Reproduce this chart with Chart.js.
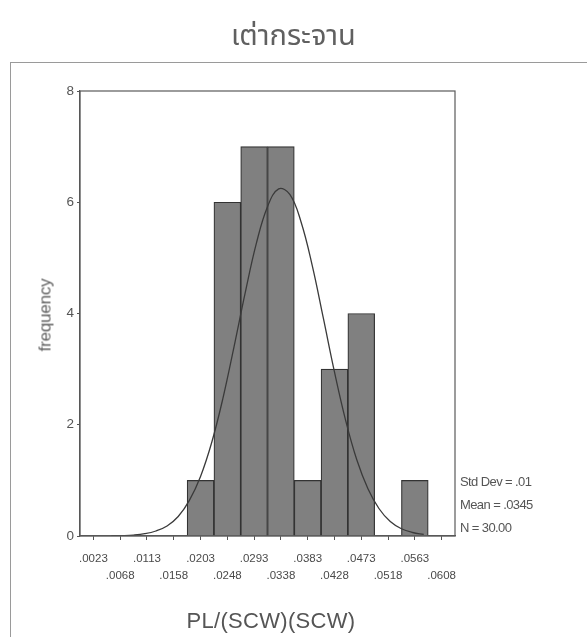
<!DOCTYPE html>
<html>
<head>
<meta charset="utf-8">
<script src="https://cdn.jsdelivr.net/npm/chart.js@4"></script>
<style>
  html, body { margin: 0; padding: 0; background: #fff; }
  #wrap { position: relative; width: 587px; height: 637px; overflow: hidden; background: #fff; }
  #frame { position: absolute; left: 10px; top: 62px; width: 600px; height: 600px; border: 1.5px solid #9a9a9a; box-sizing: border-box; }
  canvas { position: absolute; left: 0; top: 0; }
  .t { position: absolute; color: #555; font-family: 'Liberation Sans', Arial, sans-serif; white-space: nowrap; line-height: 1; }
  #title { left: 0; width: 587px; top: 36px; text-align: center; font-size: 29px; transform: translateY(-50%); font-family: 'Noto Sans Thai', 'Loma', 'Garuda', 'Tlwg Typo', 'DejaVu Sans', sans-serif; color: #606060; }
  #ytitle { left: 45px; top: 315px; font-size: 17px; transform: translate(-50%, -50%) rotate(-90deg); letter-spacing: -0.2px; color: #606060; }
  #xtitle { left: 271px; top: 621px; font-size: 22px; transform: translate(-50%, -50%); color: #555; letter-spacing: 0.3px; }
  .stat { left: 460px; font-size: 13px; letter-spacing: -0.6px; transform: translateY(-50%); }
</style>
</head>
<body>
<div id="wrap">
  <div id="frame"></div>
  <canvas id="c" width="587" height="637"></canvas>
  <div class="t" id="title">เต่ากระจาน</div>
  <div class="t" id="ytitle">frequency</div>
  <div class="t" id="xtitle">PL/(SCW)(SCW)</div>
  <div class="t stat" style="top:481px">Std Dev = .01</div>
  <div class="t stat" style="top:504px">Mean = .0345</div>
  <div class="t stat" style="top:527px">N = 30.00</div>
</div>
<script>
// Bin midpoints (category labels)
const binLabels = ['.0023', '.0068', '.0113', '.0158', '.0203', '.0248', '.0293', '.0338', '.0383', '.0428', '.0473', '.0518', '.0563', '.0608'];
// Frequencies per bin
const frequencies = [0, 0, 0, 0, 1, 6, 7, 7, 1, 3, 4, 0, 1, 0];
// Fitted normal curve
const curveX = [0.00005, 0.0023, 0.00455, 0.0068, 0.00905, 0.0113, 0.01355, 0.0158, 0.01805, 0.0203, 0.02255, 0.0248, 0.02705, 0.0293, 0.03155, 0.0338, 0.03605, 0.0383, 0.04055, 0.0428, 0.04505, 0.0473, 0.04955, 0.0518, 0.05405, 0.0563, 0.05855, 0.0608, 0.06305];
const curveY = [0.003, 0.007, 0.017, 0.041, 0.09, 0.18, 0.35, 0.64, 1.07, 1.68, 2.47, 3.40, 4.37, 5.26, 5.92, 6.24, 6.14, 5.65, 4.87, 3.92, 2.95, 2.08, 1.37, 0.85, 0.49, 0.26, 0.13, 0.063, 0.028];
const yTicks = [0, 2, 4, 6, 8];

const curvePoints = curveX.map((x, i) => ({ x: x, y: curveY[i] }));
// Staggered two-row labels
const staggered = binLabels.map((l, i) => i % 2 === 0 ? [l, ''] : ['', l]);

const boxPlugin = {
  id: 'box',
  afterDatasetsDraw(chart) {
    const a = chart.chartArea, ctx = chart.ctx;
    ctx.save();
    ctx.strokeStyle = '#5a5a5a';
    ctx.lineWidth = 1.2;
    ctx.strokeRect(a.left, a.top, a.right - a.left, a.bottom - a.top);
    ctx.restore();
  }
};

new Chart(document.getElementById('c'), {
  type: 'bar',
  data: {
    labels: staggered,
    datasets: [
      {
        type: 'line',
        data: curvePoints,
        xAxisID: 'x2',
        yAxisID: 'y',
        borderColor: '#3a3a3a',
        borderWidth: 1.3,
        pointRadius: 0,
        tension: 0.4,
        fill: false,
        order: 0
      },
      {
        type: 'bar',
        data: frequencies,
        xAxisID: 'x',
        yAxisID: 'y',
        backgroundColor: '#808080',
        borderColor: '#333333',
        borderWidth: 1.2,
        barPercentage: 1,
        categoryPercentage: 1,
        grouped: false,
        order: 1
      }
    ]
  },
  options: {
    responsive: false,
    animation: false,
    layout: { padding: { left: 46, top: 91, right: 132, bottom: 51 } },
    plugins: { legend: { display: false }, tooltip: { enabled: false }, title: { display: false } },
    scales: {
      x: {
        type: 'category',
        offset: true,
        grid: { display: true, drawOnChartArea: false, drawTicks: true, tickLength: 4, offset: false, color: '#555' },
        border: { display: true, color: '#555', width: 1.2 },
        ticks: { color: '#4a4a4a', font: { family: "'Liberation Sans', Arial, sans-serif", size: 11.5, lineHeight: 1.5 }, maxRotation: 0, autoSkip: false, padding: 10 },
        afterFit(s) { s.height = 50; }
      },
      x2: {
        type: 'linear',
        display: false,
        min: 0.00005,
        max: 0.06305
      },
      y: {
        min: 0, max: 8,
        afterBuildTicks(s) { s.ticks = yTicks.map(v => ({ value: v })); },
        grid: { display: true, drawOnChartArea: false, drawTicks: true, tickLength: 3, color: '#555' },
        border: { display: true, color: '#555', width: 1.2 },
        ticks: { color: '#555', font: { family: "'Liberation Sans', Arial, sans-serif", size: 13.5 }, padding: 3 },
        afterFit(s) { s.width = 34; }
      }
    }
  },
  plugins: [boxPlugin]
});
</script>
</body>
</html>
